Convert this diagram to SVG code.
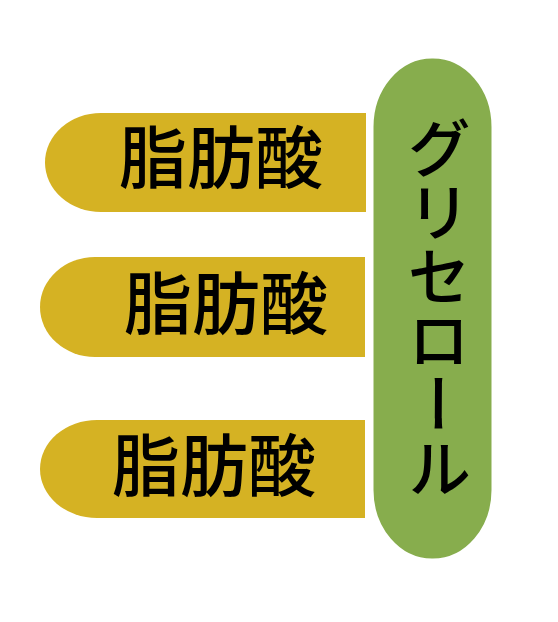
<svg xmlns="http://www.w3.org/2000/svg" width="558" height="622" viewBox="0 0 558 622">
<style>
.fa{fill:#D5B223;}
.gl{fill:#87AD4D;stroke:#FFFFFF;stroke-width:3;}
.t{font-family:"Noto Sans CJK JP","Noto Sans CJK SC",sans-serif;font-weight:500;fill:#000000;}
</style>
<rect width="558" height="622" fill="#FFFFFF"/>
<g id="connectors"></g>
<g id="fa1">
<path class="fa" d="M366,113 H101 A56,49.5 0 0 0 101,212 H366 Z"/>
<text class="t" x="221" y="183" font-size="68" text-anchor="middle">脂肪酸</text>
</g>
<g id="fa2">
<path class="fa" d="M365,257 H95 A55,50 0 0 0 95,357 H365 Z"/>
<text class="t" x="226" y="329" font-size="68" text-anchor="middle">脂肪酸</text>
</g>
<g id="fa3">
<path class="fa" d="M365,420 H97 A57,49 0 0 0 97,518 H365 Z"/>
<text class="t" x="214" y="491" font-size="68" text-anchor="middle">脂肪酸</text>
</g>
<g id="glycerol">
<rect class="gl" x="372" y="57" width="121" height="503" rx="60" ry="70"/>
<text class="t" x="439" y="308" font-size="64" text-anchor="middle" writing-mode="vertical-rl">グリセロール</text>
</g>
</svg>
